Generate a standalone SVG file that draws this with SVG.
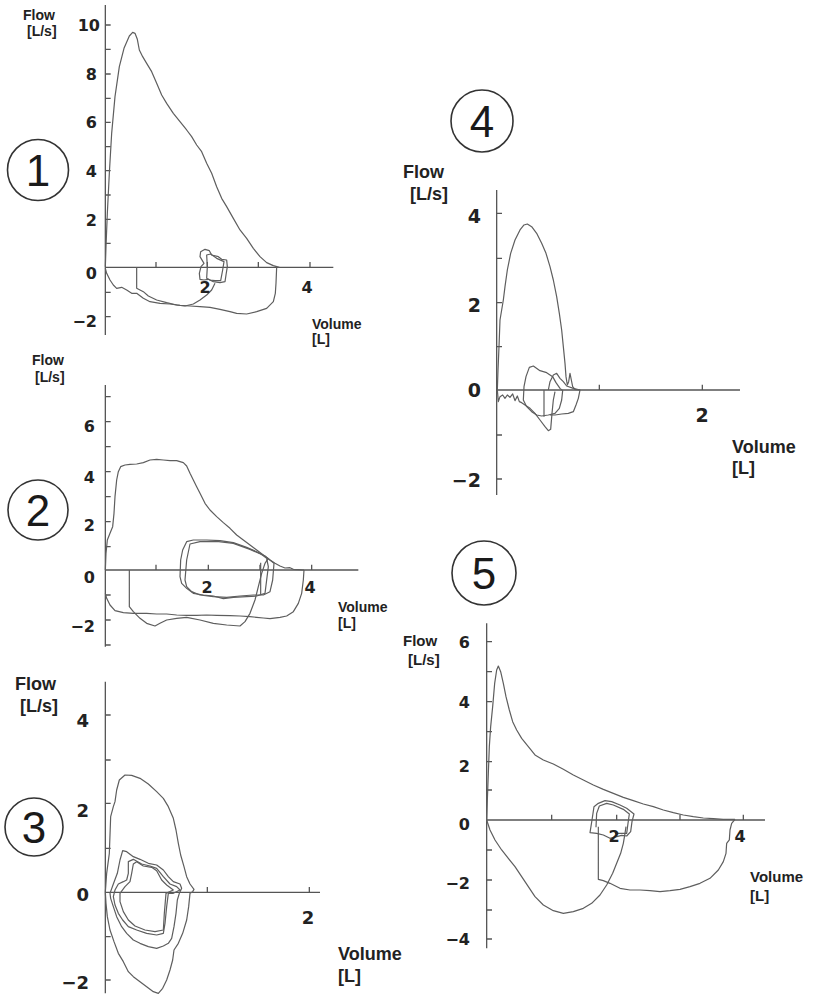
<svg xmlns="http://www.w3.org/2000/svg" width="814" height="1000" viewBox="0 0 814 1000">
<style>
.bg{fill:#fff}
.ax{fill:none;stroke:#555;stroke-width:1.3;vector-effect:non-scaling-stroke}
.cv{fill:none;stroke:#5e5e5e;stroke-width:1.2;stroke-linejoin:round;vector-effect:non-scaling-stroke}
text{font-family:"Liberation Sans",Arial,sans-serif;font-weight:bold;fill:#222}
.n{text-anchor:end;font-family:"DejaVu Sans",sans-serif}
.m{text-anchor:middle;font-family:"DejaVu Sans",sans-serif}
.ring{fill:none;stroke:#333;stroke-width:1.6}
.cn{font-weight:normal;font-size:44px;text-anchor:middle;fill:#1a1a1a}
</style>
<rect class="bg" width="814" height="1000"/>

<!-- Plot 1 -->
<g id="plot1">
<g transform="scale(0.33333)">
<path class="ax" d="M316,15V1005M316,802H1000M316,75h16M316,148h16M316,222h16M316,295h16M316,367h16M316,440h16M316,512h16M316,585h16M316,658h16M316,730h16M316,877h16M316,950h16M468,802v-16M622,802v-16M775,802v-16M930,802v-16"/>
<path class="cv" d="M316,800L318,740 322,640 328,520 335,400 345,290 358,200 372,145 388,108 398,97 405,100 412,118 418,150 428,170 440,190 455,215 470,250 485,285 500,310 520,340 540,365 560,390 575,410 590,435 605,455 620,490 635,520 650,560 665,595 680,620 700,655 720,690 740,715 760,745 780,770 800,788 820,797 838,802"/>
<path class="cv" d="M830,802L828,850 826,880 820,905 800,925 770,935 740,942 710,940 690,935 660,928 630,922 600,920 570,918 540,916 510,912 480,910 450,905 430,895 410,880 395,880 380,870 365,862 350,865 340,855 330,840 320,820 316,805"/>
<path class="cv" d="M410,802V865L430,875 445,888 470,900 500,908 530,915 555,918 580,912 600,900 620,885 635,870 645,850"/>
<path class="cv" d="M612,790L600,770 602,755 615,748 628,752 635,765 655,770 665,778 680,780 682,800 678,825 675,845 660,848 640,845 625,838 612,840 600,838 598,820 603,800Z"/>
<path class="cv" d="M622,800L620,765 632,762 650,775 672,785 668,810 662,842 645,842 630,840 620,835Z"/>
</g>
<text x="23" y="20" font-size="14">Flow</text>
<text x="27" y="36" font-size="14">[L/s]</text>
<text class="n" x="100" y="31" font-size="16">10</text>
<text class="n" x="97" y="80" font-size="16">8</text>
<text class="n" x="97" y="128" font-size="16">6</text>
<text class="n" x="97" y="177" font-size="16">4</text>
<text class="n" x="97" y="226" font-size="16">2</text>
<text class="n" x="97" y="279" font-size="16">0</text>
<text class="n" x="97" y="327" font-size="16">−2</text>
<text class="m" x="205" y="293" font-size="16">2</text>
<text class="m" x="307" y="293" font-size="16">4</text>
<text x="312" y="329" font-size="14">Volume</text>
<text x="312" y="344" font-size="14">[L]</text>
<circle class="ring" cx="38" cy="170" r="30.5"/>
<text class="cn" x="38" y="186">1</text>
</g>

<!-- Plot 2 -->
<g id="plot2">
<g transform="translate(0,340) scale(0.33333)">
<path class="ax" d="M316,135V920M316,690H1075M316,170h16M316,245h16M316,320h16M316,395h16M316,470h16M316,545h16M316,620h16M316,765h16M316,840h16M316,915h16M468,690v-16M625,690v-16M780,690v-16M935,690v-16"/>
<path class="cv" d="M316,690L318,640 322,600 330,580 338,560 342,520 345,470 350,420 355,395 362,380 375,375 390,373 410,372 430,368 450,360 470,358 490,360 510,362 530,362 550,368 560,378 570,400 580,420 590,440 600,460 615,490 630,510 650,530 670,548 690,565 710,585 730,600 750,615 770,630 790,645 810,660 825,670 840,678 855,684 870,683 880,688 895,689 912,690"/>
<path class="cv" d="M912,690L910,720 905,760 895,790 880,815 860,828 840,832 810,836 790,834 770,832 750,830 720,828 690,827 650,826 620,825 590,826 560,826 530,825 500,822 470,822 440,820 400,820 370,818 345,812 330,795 320,775 316,760"/>
<path class="cv" d="M388,690V800L400,815 420,835 440,850 465,858 480,850 500,840 530,835 560,832 600,840 640,850 680,855 720,858 735,845 750,820 765,780 775,740 785,700 795,670 805,655"/>
<path class="cv" d="M540,710L542,660 548,630 560,605 580,600 620,600 660,602 700,608 740,622 780,640 800,655 805,680 800,720 795,760 770,768 740,770 700,772 670,776 640,768 610,765 580,760 560,745 545,730Z"/>
<path class="cv" d="M555,720L560,660 570,612 600,605 650,604 700,610 750,628 795,648 822,670 818,720 810,755 790,765 760,765 720,768 680,772 640,770 600,765 575,755 560,740Z"/>
<path class="cv" d="M782,668V765"/>
</g>
<text x="32" y="365" font-size="14">Flow</text>
<text x="35" y="382" font-size="14">[L/s]</text>
<text class="n" x="95" y="432" font-size="16">6</text>
<text class="n" x="95" y="483" font-size="16">4</text>
<text class="n" x="95" y="531" font-size="16">2</text>
<text class="n" x="95" y="583" font-size="16">0</text>
<text class="n" x="95" y="632" font-size="16">−2</text>
<text class="m" x="207" y="593" font-size="16">2</text>
<text class="m" x="310" y="593" font-size="16">4</text>
<text x="338" y="612" font-size="14">Volume</text>
<text x="338" y="628" font-size="14">[L]</text>
<circle class="ring" cx="38" cy="510" r="30"/>
<text class="cn" x="38" y="526">2</text>
</g>

<!-- Plot 3 -->
<g id="plot3">
<g transform="translate(0,660) scale(0.33333)">
<path class="ax" d="M316,65V1000M316,697H960M316,165h16M316,300h16M316,430h16M316,565h16M316,830h16M316,960h16M622,697v-16M928,697v-16"/>
<path class="cv" d="M316,697L320,640 328,580 332,470 340,440 345,425 350,390 358,360 375,345 395,346 420,355 445,372 470,395 490,415 505,440 520,475 528,510 535,550 542,585 552,620 560,650 570,672 582,688 578,695 570,700 566,740 560,780 548,820 535,850 522,870 518,900 510,930 500,960 488,985 475,1000 460,995 440,980 420,965 400,950 385,935 370,905 355,880 342,845 330,810 322,770 318,730Z"/>
<path class="cv" d="M330,700L340,672 352,640 360,600 368,572 380,575 400,590 420,598 445,610 470,615 490,630 505,650 520,665 540,672 545,685 538,700 532,720 528,760 522,800 515,835 505,850 490,858 470,865 445,860 420,850 400,840 380,820 365,800 350,770 340,740 332,715Z"/>
<path class="cv" d="M345,690L355,672 370,665 380,660 385,640 385,605 400,598 425,612 450,618 470,625 490,650 510,672 530,680 540,690 520,700 505,700 500,740 495,790 490,820 470,825 440,820 410,810 385,800 368,780 355,760 345,735 340,710Z"/>
<path class="cv" d="M360,700L375,680 390,665 395,640 400,612 410,605 430,618 455,622 470,632 485,660 500,675 520,690 498,700 493,760 490,810 465,815 435,810 405,798 385,780 370,755 360,725Z"/>
</g>
<text x="15" y="690" font-size="18">Flow</text>
<text x="20" y="712" font-size="18">[L/s]</text>
<text class="n" x="89" y="727" font-size="18">4</text>
<text class="n" x="89" y="817" font-size="18">2</text>
<text class="n" x="89" y="901" font-size="18">0</text>
<text class="n" x="89" y="989" font-size="18">−2</text>
<text class="m" x="308" y="924" font-size="18">2</text>
<text x="338" y="960" font-size="18">Volume</text>
<text x="338" y="982" font-size="18">[L]</text>
<circle class="ring" cx="34" cy="827" r="29"/>
<text class="cn" x="34" y="843">3</text>
</g>

<!-- Plot 4 -->
<g id="plot4">
<g transform="translate(400,80) scale(0.33333)">
<path class="ax" d="M290,330V1245M290,930H1020M290,400h16M290,535h16M290,668h16M290,800h16M290,1065h16M290,1197h16M598,930v-16M907,930v-16"/>
<path class="cv" d="M292,930L294,870 297,800 300,720 305,690 310,660 315,620 322,570 332,520 345,480 360,450 372,435 382,432 395,440 410,460 425,490 438,520 450,560 460,600 470,650 478,700 485,750 490,800 495,850 498,890 502,915 506,905 510,880 514,900 518,920 525,928 540,930"/>
<path class="cv" d="M292,930L295,965 300,950 308,945 315,955 322,945 330,952 338,942 345,962 352,948 358,965 365,968 375,975 390,985 405,1000 420,1020 435,1040 445,1052 452,1048 456,1000 460,960 465,935"/>
<path class="cv" d="M370,960L372,920 378,890 388,862 400,858 420,872 440,878 458,890 468,908 480,925 488,932 485,960 478,985 465,1000 445,1005 425,1008 410,1005 395,995 380,980Z"/>
<path class="cv" d="M432,930V1010"/>
<path class="cv" d="M445,930L450,905 460,885 470,880 480,895 490,905 500,918 520,925 540,930 535,955 528,975 520,995 505,1000 485,1002 465,1005 450,1005"/>
</g>
<text x="403" y="178" font-size="18">Flow</text>
<text x="410" y="200" font-size="18">[L/s]</text>
<text class="n" x="481" y="223" font-size="19">4</text>
<text class="n" x="481" y="312" font-size="19">2</text>
<text class="n" x="481" y="397" font-size="19">0</text>
<text class="n" x="481" y="487" font-size="19">−2</text>
<text class="m" x="702" y="422" font-size="19">2</text>
<text x="732" y="453" font-size="18">Volume</text>
<text x="732" y="474" font-size="18">[L]</text>
<circle class="ring" cx="482" cy="121" r="31"/>
<text class="cn" x="482" y="137">4</text>
</g>

<!-- Plot 5 -->
<g id="plot5">
<g transform="translate(390,540) scale(0.33333)">
<path class="ax" d="M290,250V1225M290,840H1125M290,305h16M290,395h16M290,485h16M290,575h16M290,665h16M290,750h16M290,930h16M290,1020h16M290,1110h16M290,1197h16M485,840v-16M680,840v-16M870,840v-16M1060,840v-16"/>
<path class="cv" d="M290,840L292,780 295,700 298,620 302,560 308,500 314,430 320,390 325,378 332,395 340,430 348,470 358,510 368,545 380,570 395,595 415,620 435,645 460,660 490,672 520,688 550,705 580,720 610,735 640,748 670,760 700,772 730,782 760,792 790,800 820,810 850,818 880,825 910,830 940,834 970,836 1000,838 1035,838"/>
<path class="cv" d="M1035,838L1025,850 1020,870 1018,900 1010,910 1008,940 1000,965 985,990 960,1015 930,1030 900,1040 870,1048 840,1052 810,1055 780,1052 750,1050 720,1050 690,1045 660,1030 640,1022 625,1018V860"/>
<path class="cv" d="M290,840L300,870 315,900 335,930 355,955 375,980 395,1010 415,1040 435,1070 460,1095 490,1112 520,1120 550,1115 580,1105 605,1090 630,1065 650,1035 668,1000 680,970 692,940 700,910 705,880 708,860"/>
<path class="cv" d="M600,878L606,840 612,800 625,790 645,782 665,785 690,795 710,805 732,822 726,845 722,875 710,888 695,886 680,890 660,895 640,885 620,880Z"/>
<path class="cv" d="M618,862L620,820 628,798 650,790 670,795 700,808 718,822 714,850 710,880 695,880 675,880"/>
</g>
<text x="403" y="646" font-size="15">Flow</text>
<text x="408" y="665" font-size="15">[L/s]</text>
<text class="n" x="470" y="648" font-size="16">6</text>
<text class="n" x="470" y="708" font-size="16">4</text>
<text class="n" x="470" y="772" font-size="16">2</text>
<text class="n" x="470" y="830" font-size="16">0</text>
<text class="n" x="470" y="889" font-size="16">−2</text>
<text class="n" x="470" y="945" font-size="16">−4</text>
<text class="m" x="614" y="842" font-size="16">2</text>
<text class="m" x="740" y="842" font-size="16">4</text>
<text x="750" y="882" font-size="15">Volume</text>
<text x="750" y="901" font-size="15">[L]</text>
<circle class="ring" cx="484" cy="573" r="32"/>
<text class="cn" x="484" y="589">5</text>
</g>
</svg>
